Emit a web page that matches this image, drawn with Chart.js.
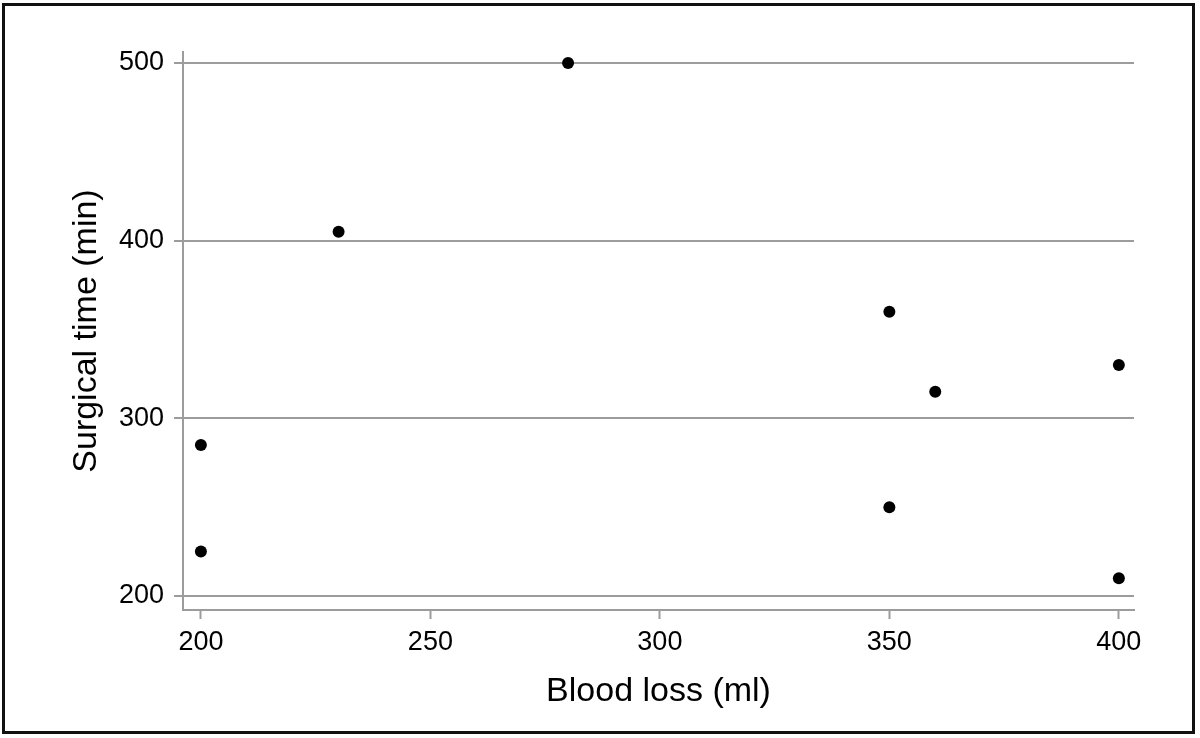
<!DOCTYPE html>
<html>
<head>
<meta charset="utf-8">
<script src="https://cdn.jsdelivr.net/npm/chart.js@4"></script>
<style>
  html, body { margin: 0; padding: 0; background: #fff; }
  #frame {
    position: absolute; left: 2px; top: 3px;
    width: 1193px; height: 731px;
    box-sizing: border-box; border: 3px solid #111;
  }
  #wrap { position: absolute; left: 0; top: 0; width: 1200px; height: 738px; }
</style>
</head>
<body>
<div id="frame"></div>
<div id="wrap"><canvas id="myChart" width="1200" height="738"></canvas></div>
<script>
// data
const bloodLoss = [200, 200, 230, 280, 350, 350, 360, 400, 400];
const surgicalTime = [285, 225, 405, 500, 360, 250, 315, 330, 210];
const xTicks = [200, 250, 300, 350, 400];
const yTicks = [200, 300, 400, 500];

const axisGray = '#9c9c9c';
Chart.defaults.font.family = '"Liberation Sans", Arial, sans-serif';
Chart.defaults.color = '#000';

let ctx = document.getElementById('myChart').getContext('2d');

let points = bloodLoss.map((x, i) => ({ x: x, y: surgicalTime[i] }));

let scatterChart = new Chart(ctx, {
    type: 'scatter',
    data: {
        datasets: [{
            label: 'Surgical time',
            data: points,
            pointRadius: 6,
            pointHoverRadius: 6,
            pointBackgroundColor: '#000',
            pointBorderWidth: 0,
            borderColor: '#000'
        }]
    },
    options: {
        responsive: false,
        animation: false,
        layout: {
            padding: { top: 52, right: 66, left: 0, bottom: 0 }
        },
        plugins: {
            legend: { display: false },
            tooltip: { enabled: false }
        },
        scales: {
            x: {
                type: 'linear',
                min: 196.1,
                max: 403.3,
                afterBuildTicks: (scale) => { scale.ticks = xTicks.map(v => ({ value: v })); },
                afterFit: (scale) => { scale.height = 128; },
                grid: {
                    drawOnChartArea: false,
                    drawTicks: true,
                    tickLength: 9,
                    tickWidth: 2,
                    tickColor: axisGray
                },
                border: { color: axisGray, width: 2 },
                ticks: { font: { size: 27 }, padding: 7, maxRotation: 0 },
                title: {
                    display: true,
                    text: 'Blood loss (ml)',
                    font: { size: 34 },
                    padding: { top: 26, bottom: 26 }
                }
            },
            y: {
                type: 'linear',
                min: 192.1,
                max: 506.2,
                z: 1,
                afterBuildTicks: (scale) => { scale.ticks = yTicks.map(v => ({ value: v })); },
                afterFit: (scale) => { scale.width = 183; },
                grid: {
                    color: axisGray,
                    lineWidth: 2,
                    drawTicks: true,
                    tickLength: 9,
                    tickWidth: 2,
                    tickColor: axisGray
                },
                border: { color: axisGray, width: 2 },
                ticks: { font: { size: 27 }, padding: 10 },
                title: {
                    display: true,
                    text: 'Surgical time (min)',
                    font: { size: 34 },
                    padding: { top: 66, bottom: 66 }
                }
            }
        }
    }
});
</script>
</body>
</html>
